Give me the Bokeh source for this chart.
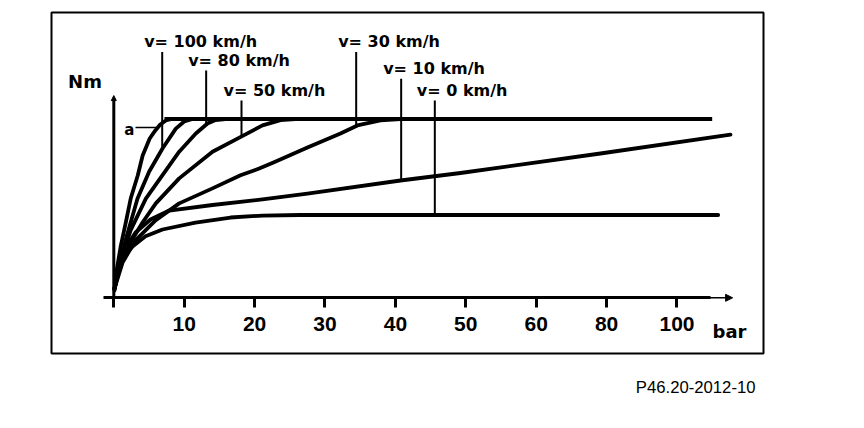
from bokeh.plotting import figure
from bokeh.models import (Range1d, FixedTicker, ColumnDataSource, LabelSet, Label,
                          Arrow, NormalHead, Title)
from bokeh.core.properties import value
from bokeh.embed import file_html
from bokeh.resources import INLINE

FONT = "DejaVu Sans"
TICK_FONT = "Liberation Sans"

# x axis: equally spaced tick positions, labelled in bar (60 -> 80 -> 100 compressed)
tick_pos = [0, 10, 20, 30, 40, 50, 60, 70, 80]
tick_labels = ["", "10", "20", "30", "40", "50", "60", "80", "100"]

# torque curves (x = axis position, y = torque, relative units; 100 = level "a")
a_x = [0.1, 0.4, 1.0, 1.7, 2.4, 3.4, 4.1, 5.1, 5.9, 6.6, 7.5, 8.3]
a_y = [5.2, 15.3, 29.2, 42.1, 55.5, 68.4, 79.6, 89.1, 93.6, 96.9, 99.4, 100.0]

v100_x = [0.1, 0.67, 1.66, 3.37, 5.03, 6.92, 8.81, 10.0, 11.18]
v100_y = [5.2, 16.4, 32.0, 55.5, 70.6, 83.5, 94.6, 98.6, 100.0]

v80_x = [0.1, 0.95, 2.37, 4.55, 6.92, 9.29, 11.65, 13.31, 14.45, 15.87]
v80_y = [5.2, 19.7, 37.6, 55.5, 68.6, 81.7, 91.9, 97.5, 99.4, 100.0]

v50_x = [0.1, 0.95, 2.37, 4.08, 5.97, 9.29, 14.02, 18.04, 21.12, 23.68, 25.81]
v50_y = [5.2, 18.1, 30.9, 42.1, 52.8, 66.8, 81.7, 90.0, 96.4, 99.4, 100.0]

v30_x = [0.1, 1.24, 3.08, 5.92, 9.29, 14.02, 18.0, 20.65, 22.68, 27.51, 32.2, 34.6, 37.87, 40.72]
v30_y = [5.2, 19.7, 32.1, 43.3, 52.8, 61.2, 68.5, 72.3, 75.7, 84.1, 91.9, 96.4, 99.2, 100.0]

v10_x = [0.1, 0.67, 1.66, 3.08, 5.21, 7.87, 14.02, 21.12, 27.51, 40.72, 49.25, 69.13, 87.6]
v10_y = [5.2, 16.4, 27.6, 36.5, 43.8, 48.8, 51.9, 55.0, 58.3, 65.6, 69.8, 80.7, 91.3]

v0_x = [0.1, 0.53, 1.24, 2.66, 4.5, 6.92, 11.6, 16.58, 21.12, 26.5, 85.85]
v0_y = [4.1, 14.1, 21.9, 28.7, 34.4, 38.2, 42.1, 44.9, 46.0, 46.3, 46.3]

level_a_x = [7.2, 85.0]
level_a_y = [100.0, 100.0]

# speed annotations: marker x, marker top, point on curve
speed_labels = ["v= 100 km/h", "v= 80 km/h", "v= 50 km/h", "v= 30 km/h", "v= 10 km/h", "v= 0 km/h"]
marker_x = [6.875, 13.12, 18.14, 34.43, 40.82, 45.6]
marker_top = [137.4, 127.1, 110.3, 137.4, 122.5, 110.3]
marker_bottom = [84.0, 97.5, 89.7, 95.2, 65.6, 46.6]

p = figure(frame_width=712, frame_height=341,
           x_range=Range1d(-8.85, 92.29), y_range=Range1d(-31.15, 159.56),
           output_backend="svg", toolbar_location=None, title=None,
           y_axis_location=None,
           min_border_left=51, min_border_right=85, min_border_top=12, min_border_bottom=10,
           background_fill_color="white", border_fill_color="white",
           outline_line_color="black", outline_line_width=2)
p.grid.visible = False

ax = p.xaxis[0]
ax.fixed_location = 0
ax.bounds = (-1.46, 84.8)
ax.ticker = FixedTicker(ticks=tick_pos)
ax.major_label_overrides = {t: l for t, l in zip(tick_pos, tick_labels)}
ax.minor_tick_line_color = None
ax.major_tick_in = 0
ax.major_tick_out = 10
ax.major_tick_line_width = 3
ax.axis_line_width = 3
ax.axis_line_color = "black"
ax.major_tick_line_color = "black"
ax.major_label_text_font = TICK_FONT
ax.major_label_text_font_style = "bold"
ax.major_label_text_font_size = "21px"
ax.major_label_text_color = "black"
ax.major_label_standoff = 9

# x axis arrow tip
p.add_layout(Arrow(end=NormalHead(size=7, fill_color="black", line_color="black", line_width=1),
                   x_start=84.5, y_start=0, x_end=87.9, y_end=0,
                   line_color="black", line_width=1.5))
# y axis with arrow
p.add_layout(Arrow(end=NormalHead(size=5, fill_color="black", line_color="black", line_width=1),
                   x_start=0, y_start=0, x_end=0, y_end=113.1,
                   line_color="black", line_width=3))

curves = [(a_x, a_y), (v100_x, v100_y), (v80_x, v80_y), (v50_x, v50_y),
          (v30_x, v30_y), (v10_x, v10_y), (v0_x, v0_y)]
for cx, cy in curves:
    p.line(cx, cy, line_width=3.8, line_color="black", line_join="round", line_cap="round")
p.line(level_a_x, level_a_y, line_width=4.2, line_color="black")

src = ColumnDataSource(dict(x=marker_x, top=marker_top, bottom=marker_bottom, label=speed_labels))
p.segment(x0="x", y0="top", x1="x", y1="bottom", source=src, line_width=2, line_color="black")
p.add_layout(LabelSet(x="x", y="top", text="label", source=src, x_offset=-18, y_offset=5,
                      text_font=value(FONT), text_font_style="bold", text_font_size="16px",
                      text_color="black", text_baseline="alphabetic", text_align="left"))

# "a" marker with leader line
p.segment(x0=[3.08], y0=[95.2], x1=[6.07], y1=[95.2], line_width=1.5, line_color="black")
p.add_layout(Label(x=2.19, y=94.1, text="a", text_font=FONT, text_font_style="bold",
                   text_font_size="15px", text_align="center", text_baseline="middle",
                   text_color="black"))

p.add_layout(Label(x=-4.09, y=121.0, text="Nm", text_font=FONT, text_font_style="bold",
                   text_font_size="18px", text_align="center", text_baseline="middle",
                   text_color="black"))
p.add_layout(Label(x=87.46, y=-18.8, text="bar", text_font=FONT, text_font_style="bold",
                   text_font_size="18px", text_align="center", text_baseline="middle",
                   text_color="black"))

p.add_layout(Title(text="P46.20-2012-10", align="right", text_font=TICK_FONT,
                   text_font_style="normal", text_font_size="16.7px", text_color="black",
                   standoff=44, offset=8), "below")

open("out.html", "w").write(file_html(p, INLINE))
